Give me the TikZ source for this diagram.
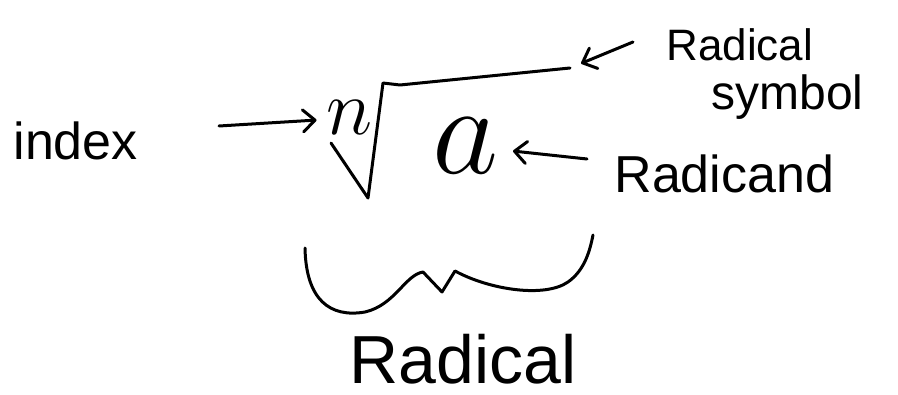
\documentclass[tikz,border=0pt]{standalone}
\usepackage{fontspec}
\setmainfont{Liberation Sans}
\usetikzlibrary{arrows.meta,positioning}

\begin{document}
\begin{tikzpicture}[x=0.5pt,y=-0.5pt,line width=1.5pt,line cap=round,line join=round,
  every node/.style={inner sep=1pt},
  label/.style={anchor=base west,inner sep=0pt,font=\fontsize{26}{28}\selectfont},
  arr/.style={-{Straight Barb[length=6pt,width=11pt,round]}}]
\useasboundingbox (0,0) rectangle (898,395);
% radical sign
\coordinate (r0) at (331,143);
\coordinate (r1) at (368,198);
\coordinate (r2) at (383,83);
\coordinate (r3) at (570,68);
\draw (r0)--(r1)--(r2)--(400,85)--(r3);
\node[font=\huge,scale=1.9,inner sep=2pt] (n) at (350,118) {$n$};
\node[font=\huge,scale=3.1,inner sep=1.5pt] (a) at (466,146) {$a$};
% labels
\node[label] (index) at (12,160) {index};
\node[label,font=\fontsize{22}{24}\selectfont] (symtop) at (665,61) {Radical};
\node[label,font=\fontsize{24}{26}\selectfont] (symbot) at (710,110) {symbol};
\node[label] (radicand) at (613,192) {Radicand};
\node[label,font=\fontsize{34}{36}\selectfont] (radical) at (348,383) {Radical};
% arrows
\coordinate (idxtail) at (219,126);
\coordinate (symtail) at (633,42);
\coordinate (candtail) at (587,159);
\draw[arr] (idxtail) -- (n);
\draw[arr,shorten >=6pt] (symtail) -- (r3);
\draw[arr] (candtail) -- (a);
% brace
\draw (305,248) .. controls (306,300) and (330,318) .. (365,312)
  .. controls (395,305) and (405,275) .. (423,272)
  -- (442,292) -- (455,271)
  .. controls (490,290) and (545,298) .. (568,282)
  .. controls (585,270) and (590,250) .. (593,235);
\end{tikzpicture}
\end{document}
